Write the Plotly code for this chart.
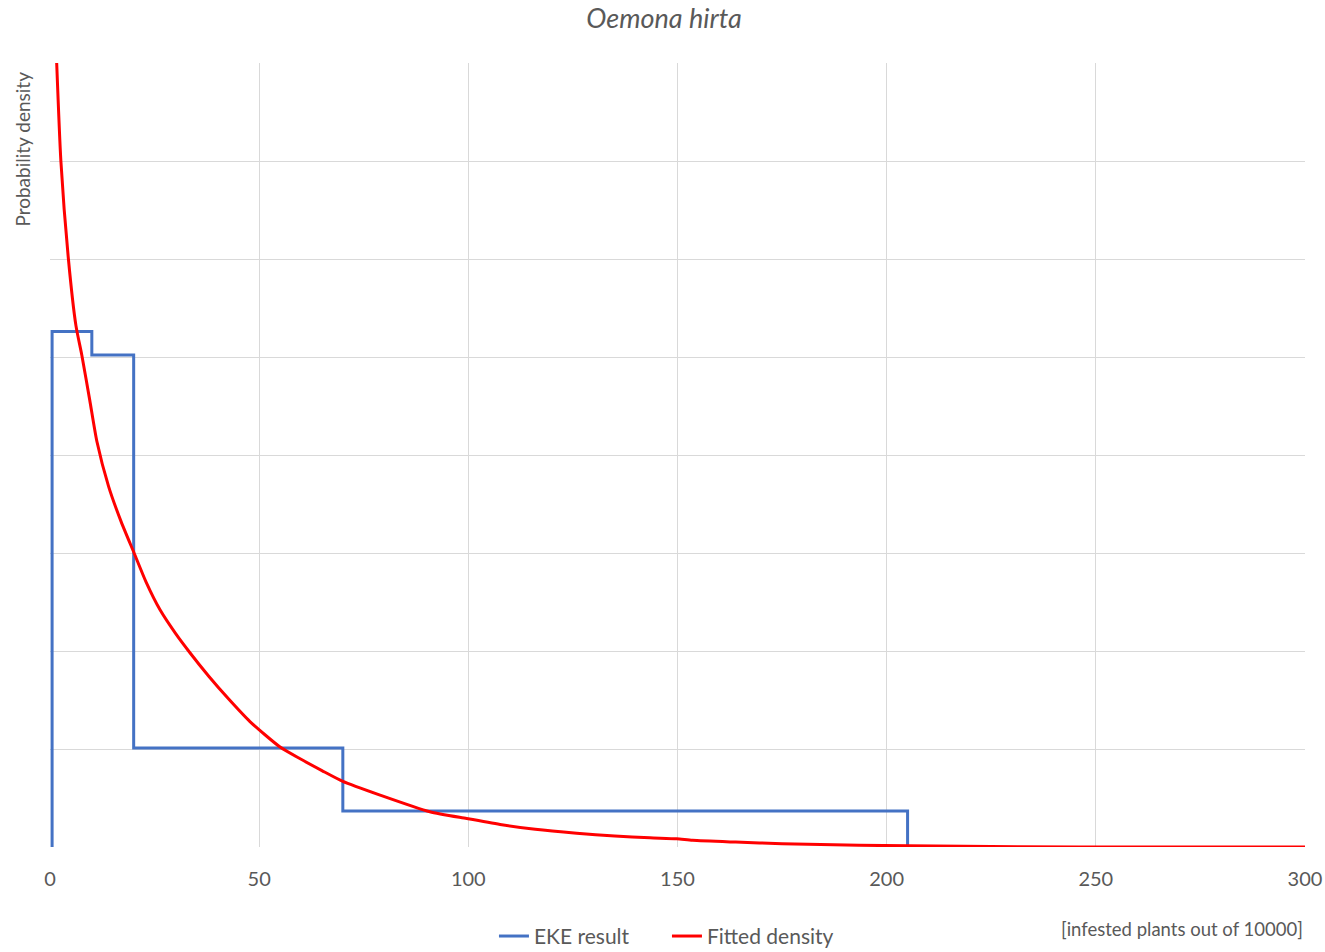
import plotly.graph_objects as go

# EKE result (histogram of quartile bins)
bin_edges = [0.5, 10, 20, 70, 205]
bin_density = [0.0263, 0.0251, 0.00505, 0.00184]

# Fitted density
fit_x = [1.6, 2.6, 4.4, 6.2, 7.6, 9.5, 11.2, 14.0, 17.0, 20.1, 23.0, 26.3, 30.0, 33.5, 38.0,
         42.5, 47.8, 55.0, 59.8, 65.0, 70.0, 78.9, 90.8, 99.6, 107.6, 116.0, 125.9, 135.0,
         143.4, 149.8, 153.6, 163.9, 175.0, 193.4, 205.0, 231.3, 260.0, 300.0]
fit_y = [0.0400, 0.0350, 0.0300, 0.0266, 0.0251, 0.0228, 0.0207, 0.0184, 0.0166, 0.0150,
         0.0135, 0.0121, 0.0109, 0.0099, 0.0087, 0.0076, 0.0064, 0.0051, 0.0045, 0.0039,
         0.00335, 0.00265, 0.00180, 0.00145, 0.00115, 0.00090, 0.00070, 0.00056, 0.00047,
         0.00042, 0.00034, 0.00025, 0.00017, 0.00009, 0.00006, 0.00001, 0.0, 0.0]

x_ticks = [0, 50, 100, 150, 200, 250, 300]

# build step outline from bins
step_x = [bin_edges[0]]
step_y = [0]
for i, d in enumerate(bin_density):
    step_x += [bin_edges[i], bin_edges[i + 1]]
    step_y += [d, d]
step_x.append(bin_edges[-1])
step_y.append(0)

FONT = "Lato"
GREY = "#595959"
W, H = 1325, 952

fig = go.Figure()
fig.add_trace(go.Scatter(x=step_x, y=step_y, mode="lines", name="EKE result",
                         line=dict(color="#4472C4", width=3)))
fig.add_trace(go.Scatter(x=fit_x, y=fit_y, mode="lines", name="Fitted density",
                         line=dict(color="#FF0000", width=3, shape="spline", smoothing=0.6)))

fig.update_layout(
    width=W, height=H,
    margin=dict(l=50, r=20, t=63, b=105, autoexpand=False),
    plot_bgcolor="white", paper_bgcolor="white",
    font=dict(family=FONT, color=GREY),
    title=dict(text="<i>Oemona hirta</i>", x=664 / W, xanchor="center", xref="container",
               y=1 - 19 / H, yanchor="middle", yref="container",
               font=dict(size=27, color=GREY, family=FONT)),
    xaxis=dict(range=[0, 300], tickvals=x_ticks, showgrid=True, gridcolor="#d9d9d9",
               gridwidth=1, zeroline=False, showline=False, ticks="", automargin=False,
               tickfont=dict(size=20, color=GREY), ticklabelstandoff=18),
    yaxis=dict(range=[0, 0.04], dtick=0.005, showgrid=True, gridcolor="#d9d9d9",
               gridwidth=1, zeroline=False, showline=False, showticklabels=False, ticks="",
               automargin=False),
    legend=dict(orientation="h", x=0.4916, xanchor="center", y=-0.114, yanchor="middle",
                entrywidth=128, font=dict(size=21, color=GREY), bgcolor="rgba(0,0,0,0)"),
    showlegend=True,
)

fig.add_annotation(text="Probability density", xref="paper", yref="paper",
                   x=-0.0215, y=0.991, xanchor="center", yanchor="top", textangle=-90,
                   showarrow=False, font=dict(size=19, color=GREY, family=FONT))
fig.add_annotation(text="[infested plants out of 10000]", xref="paper", yref="paper",
                   x=1.0, y=-0.1046, xanchor="right", yanchor="middle",
                   showarrow=False, font=dict(size=18.5, color=GREY, family=FONT))

fig.write_html(
    "out.html",
    config={"displayModeBar": False},
    post_script="document.body.style.margin='0';document.body.style.overflow='hidden';",
)
